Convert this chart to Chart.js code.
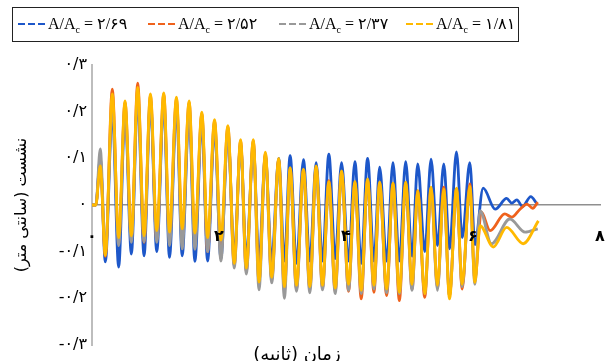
<!DOCTYPE html>
<html><head><meta charset="utf-8">
<script src="https://cdn.jsdelivr.net/npm/chart.js@4"></script>
<style>
html,body{margin:0;padding:0;background:#fff;}
#wrap{position:relative;width:610px;height:361px;overflow:hidden;background:#fff;}
#c{position:absolute;left:0;top:0;}
#legend{position:absolute;left:12px;top:7px;width:507px;height:35px;border:1px solid #222;box-sizing:border-box;font-family:"Liberation Serif","DejaVu Sans";font-size:16px;color:#000;}
.item{position:absolute;top:7px;white-space:nowrap;line-height:18px;}
.dash{display:inline-block;width:27px;height:2px;vertical-align:middle;margin-right:3px;position:relative;top:-1px;}
sub{font-size:10px;vertical-align:-4px;}
#xtitle{position:absolute;left:197px;width:200px;top:343px;text-align:center;direction:rtl;font-family:"DejaVu Sans";font-size:18px;color:#000;}
</style></head>
<body>
<div id="wrap">
<canvas id="c" width="610" height="361"></canvas>
<div id="legend"></div>
<div id="xtitle">زمان (ثانیه)</div>
</div>
<script>
// ---- data ----
const seriesNames = ['۲/۶۹', '۲/۵۲', '۲/۳۷', '۱/۸۱'];
const seriesColors = ['#1D57C9', '#EF621C', '#999999', '#FFB900'];

// times (s) of the oscillation extrema, shared by all series
const times = [0, 0.06, 0.13, 0.21, 0.32, 0.42, 0.52, 0.62, 0.72, 0.82, 0.92, 1.02, 1.13, 1.22, 1.33, 1.42, 1.53, 1.62, 1.73, 1.82, 1.93, 2.03, 2.14, 2.24, 2.34, 2.43, 2.54, 2.63, 2.73, 2.83, 2.94, 3.03, 3.12, 3.22, 3.33, 3.43, 3.53, 3.63, 3.73, 3.83, 3.93, 4.04, 4.14, 4.24, 4.34, 4.44, 4.53, 4.64, 4.74, 4.84, 4.94, 5.04, 5.13, 5.24, 5.34, 5.44, 5.54, 5.63, 5.74, 5.83, 5.95, 6.03];

const blueOsc = [0, 0,
  0.10, -0.122, 0.20, -0.133, 0.20, -0.105, 0.23, -0.109, 0.22, -0.10,
  0.22, -0.112, 0.21, -0.109, 0.20, -0.121, 0.18, -0.12, 0.165, -0.115,
  0.155, -0.11, 0.13, -0.115, 0.125, -0.12, 0.105, -0.12, 0.10, -0.12,
  0.106, -0.125, 0.097, -0.12, 0.091, -0.12, 0.109, -0.115, 0.091, -0.12,
  0.093, -0.125, 0.10, -0.12, 0.081, -0.12, 0.091, -0.12, 0.093, -0.11,
  0.088, -0.10, 0.098, -0.087, 0.088, -0.094, 0.114, -0.07, 0.091, -0.085];
const orangeOsc = [0, 0,
  0.095, -0.11, 0.248, -0.08, 0.22, -0.07, 0.261, -0.08, 0.235, -0.076,
  0.238, -0.073, 0.228, -0.066, 0.22, -0.075, 0.196, -0.10, 0.18, -0.10,
  0.168, -0.13, 0.138, -0.143, 0.138, -0.165, 0.11, -0.16, 0.097, -0.185,
  0.078, -0.18, 0.075, -0.18, 0.082, -0.178, 0.052, -0.185, 0.07, -0.185,
  0.048, -0.201, 0.054, -0.187, 0.047, -0.194, 0.045, -0.205, 0.047, -0.18,
  0.03, -0.198, 0.036, -0.178, 0.038, -0.195, 0.034, -0.18, 0.045, -0.16];
const greyOsc = [0, 0,
  0.12, -0.10, 0.215, -0.087, 0.21, -0.08, 0.235, -0.079, 0.225, -0.08,
  0.225, -0.087, 0.22, -0.094, 0.21, -0.095, 0.19, -0.10, 0.175, -0.12,
  0.16, -0.135, 0.13, -0.148, 0.13, -0.182, 0.105, -0.167, 0.09, -0.20,
  0.07, -0.185, 0.07, -0.188, 0.075, -0.182, 0.045, -0.19, 0.065, -0.183,
  0.045, -0.19, 0.05, -0.18, 0.042, -0.188, 0.04, -0.19, 0.042, -0.183,
  0.026, -0.19, 0.032, -0.183, 0.028, -0.195, 0.03, -0.175, 0.035, -0.17];
const yellowOsc = [0, 0,
  0.084, -0.108, 0.238, -0.07, 0.223, -0.066, 0.252, -0.066, 0.238, -0.055,
  0.24, -0.058, 0.231, -0.051, 0.223, -0.06, 0.199, -0.07, 0.183, -0.075,
  0.17, -0.125, 0.14, -0.135, 0.14, -0.165, 0.113, -0.155, 0.10, -0.175,
  0.08, -0.172, 0.077, -0.175, 0.084, -0.172, 0.05, -0.178, 0.073, -0.17,
  0.05, -0.183, 0.056, -0.172, 0.049, -0.18, 0.047, -0.187, 0.049, -0.17,
  0.031, -0.19, 0.038, -0.172, 0.034, -0.201, 0.036, -0.17, 0.04, -0.166];

// free-vibration tails after ~6 s (times and values per series)
const blueTailT = [6.16, 6.35, 6.53, 6.61, 6.69, 6.78, 6.91, 7.0];
const blueTailV = [0.036, -0.009, 0.014, 0.004, 0.011, -0.003, 0.018, 0.004];
const orangeTailT = [6.13, 6.27, 6.5, 6.61, 6.74, 6.85, 6.94, 7.02];
const orangeTailV = [-0.015, -0.055, -0.019, -0.026, -0.009, 0.002, -0.007, 0.006];
const greyTailT = [6.11, 6.29, 6.58, 6.82, 7.02];
const greyTailV = [-0.012, -0.083, -0.03, -0.058, -0.051];
const yellowTailT = [6.11, 6.32, 6.53, 6.79, 7.03];
const yellowTailV = [-0.044, -0.09, -0.048, -0.083, -0.034];

const xTickValues = [0, 2, 4, 6, 8];
const xTickLabels = ['۰', '۲', '۴', '۶', '۸'];
const yTickValues = [-0.3, -0.2, -0.1, 0, 0.1, 0.2, 0.3];
const yTickLabels = ['-۰/۳', '-۰/۲', '-۰/۱', '۰', '۰/۱', '۰/۲', '۰/۳'];
const yTitle = 'نشست (سانتی متر)';

// ---- build ----
function pts(osc, tt, tv) {
  const out = times.map((t, i) => ({x: t, y: osc[i]}));
  tt.forEach((t, i) => out.push({x: t, y: tv[i]}));
  return out;
}
const seriesData = [
  pts(blueOsc, blueTailT, blueTailV),
  pts(orangeOsc, orangeTailT, orangeTailV),
  pts(greyOsc, greyTailT, greyTailV),
  pts(yellowOsc, yellowTailT, yellowTailV)
];

const datasets = seriesData.map((d, i) => ({
  label: 'A/Ac = ' + seriesNames[i],
  data: d,
  borderColor: seriesColors[i],
  backgroundColor: seriesColors[i],
  borderWidth: 2.8,
  pointRadius: 0,
  cubicInterpolationMode: 'monotone',
  fill: false,
  order: 4 - i
}));

const chart = new Chart(document.getElementById('c'), {
  type: 'line',
  data: {datasets},
  options: {
    responsive: false,
    animation: false,
    devicePixelRatio: 1,
    layout: {padding: {top: 65, right: 10, bottom: 16, left: 0}},
    plugins: {legend: {display: false}, tooltip: {enabled: false}},
    scales: {
      x: {
        type: 'linear', min: 0, max: 8,
        position: {y: 0},
        afterBuildTicks: s => { s.ticks = xTickValues.map(v => ({value: v})); },
        ticks: {
          callback: v => xTickLabels[xTickValues.indexOf(v)],
          font: {family: 'DejaVu Sans', size: 16, weight: 'bold'}, color: '#000', padding: 0, maxRotation: 0, autoSkip: false, z: 2
        },
        grid: {display: true, drawOnChartArea: false, drawTicks: true, tickLength: 22, tickColor: 'rgba(0,0,0,0)'},
        border: {color: '#8F8F8F', width: 1.6}
      },
      y: {
        min: -0.3, max: 0.3,
        afterBuildTicks: s => { s.ticks = yTickValues.map(v => ({value: v})); },
        ticks: {
          callback: v => yTickLabels[yTickValues.findIndex(t => Math.abs(t - v) < 1e-6)],
          font: {family: 'DejaVu Sans', size: 16}, color: '#000', padding: 5
        },
        grid: {display: false, drawTicks: false},
        border: {color: '#BDBDBD', width: 2},
        title: {display: true, text: yTitle, font: {family: 'DejaVu Sans', size: 16}, color: '#000', padding: {top: 12, bottom: 0}},
        afterFit: s => { s.width = 92; }
      }
    }
  }
});

// HTML legend
const lg = document.getElementById('legend');
const lefts = [5, 135, 266, 393];
seriesNames.forEach((n, i) => {
  const it = document.createElement('span');
  it.className = 'item';
  it.style.left = lefts[i] + 'px';
  const c = seriesColors[i];
  it.innerHTML = '<span class="dash" style="background:repeating-linear-gradient(to right,' + c + ' 0 7px,transparent 7px 10px)"></span>A/A<sub>c</sub> = ' + n;
  lg.appendChild(it);
});
</script>
</body></html>
